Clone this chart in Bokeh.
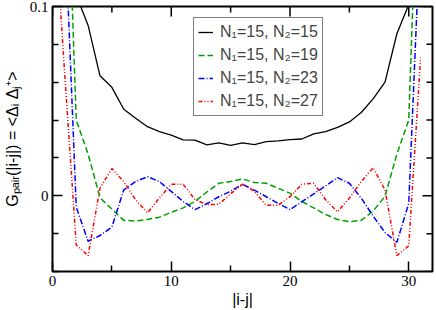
import math
from bokeh.plotting import figure
from bokeh.models import Range1d, SingleIntervalTicker, FixedTicker, Legend, LegendItem
from bokeh.embed import file_html
from bokeh.resources import INLINE

# |i-j| positions
dist = list(range(32))

# N1=15, N2=15
g_15 = [0.60, 0.25, 0.106, 0.090, 0.0634, 0.0573, 0.0457, 0.041, 0.0365, 0.0339,
        0.0321, 0.0295, 0.0294, 0.0269, 0.028, 0.0266, 0.028, 0.027, 0.0286, 0.029,
        0.0297, 0.030, 0.0327, 0.0339, 0.0361, 0.039, 0.044, 0.0512, 0.060, 0.0856,
        0.101, 0.25]
# N1=15, N2=19
g_19 = [0.60, 0.22, 0.040, 0.022, -0.001, -0.007, -0.013, -0.0133, -0.0125, -0.0113,
        -0.0087, -0.0064, -0.003, 0.002, 0.0066, 0.0075, 0.0089, 0.007, 0.0066, 0.004,
        0.0014, -0.003, -0.0064, -0.0099, -0.0125, -0.0137, -0.013, -0.0081, -0.0003, 0.022,
        0.040, 0.22]
# N1=15, N2=23
g_23 = [0.40, 0.15, -0.006, -0.024, -0.021, -0.0165, 0.0031, 0.0075, 0.0101, 0.0075,
        0.0023, -0.003, -0.0073, -0.0042, -0.0005, 0.0024, 0.0061, 0.003, -0.0005, -0.004,
        -0.0073, -0.0031, 0.001, 0.0052, 0.0096, 0.0066, -0.0012, -0.0107, -0.0194, -0.0246,
        -0.004, 0.145]
# N1=15, N2=27
g_27 = [0.165, 0.067, -0.026, -0.0316, 0.004, 0.0144, 0.0075, -0.0021, -0.009, -0.0012,
        0.0061, 0.0061, -0.002, -0.0047, -0.0045, 0.001, 0.0061, 0.0023, -0.005, -0.005,
        -0.0005, 0.0061, 0.0066, -0.0021, -0.0085, -0.0012, 0.0075, 0.0148, 0.0031, -0.0316,
        -0.0264, 0.073]

labels = ["N\u2081=15, N\u2082=15", "N\u2081=15, N\u2082=19",
          "N\u2081=15, N\u2082=23", "N\u2081=15, N\u2082=27"]
x_lim = (0, 32)
y_lim = (-0.04, 0.1)
x_major_ticks = [0, 10, 20, 30]
x_minor_ticks = [5, 15, 25]
y_major_ticks = [0, 0.1]
y_minor_ticks = [-0.04, -0.02, 0.02, 0.04, 0.06, 0.08]

p = figure(width=436, height=310, x_range=Range1d(*x_lim), y_range=Range1d(*y_lim),
           output_backend="svg", toolbar_location=None,
           min_border_left=52, min_border_right=4, min_border_top=6, min_border_bottom=37)
p.grid.visible = False
p.outline_line_color = "black"
p.outline_line_width = 2
p.background_fill_color = "white"
p.border_fill_color = "white"

def style_axis(ax):
    ax.axis_line_color = None
    ax.major_tick_in = 10
    ax.major_tick_out = 0
    ax.minor_tick_in = 6
    ax.minor_tick_out = 0
    ax.major_tick_line_width = 1.5
    ax.minor_tick_line_width = 1.5
    ax.major_tick_line_color = "black"
    ax.minor_tick_line_color = "black"
    ax.major_label_text_font = "Liberation Serif"
    ax.major_label_text_font_size = "15px"
    ax.major_label_text_color = "black"
    ax.axis_label_text_font = "Liberation Sans"
    ax.axis_label_text_font_size = "16px"
    ax.axis_label_text_font_style = "normal"
    ax.axis_label_text_color = "black"

xa = p.xaxis[0]
xa.ticker = FixedTicker(ticks=x_major_ticks, minor_ticks=x_minor_ticks)
style_axis(xa)
xa.major_label_standoff = 4
xa.axis_label = "|i-j|"
xa.axis_label_standoff = 2

ya = p.yaxis[0]
ya.ticker = FixedTicker(ticks=y_major_ticks, minor_ticks=y_minor_ticks)
style_axis(ya)
ya.major_label_standoff = 4
ya.major_label_overrides = {0: "0", 0.1: "0.1"}
ya.axis_label = "G\u209a\u2090\u1d62\u1d63(|i-j|) = <\u0394\u1d62 \u0394\u2c7c\u207a>"
ya.axis_label_standoff = 6

# mirrored inward ticks on the top and right frame edges
p.ray(x=x_major_ticks, y=[y_lim[1]] * len(x_major_ticks), length=10, angle=-math.pi / 2,
      length_units="screen", line_color="black", line_width=1.5)
p.ray(x=x_minor_ticks, y=[y_lim[1]] * len(x_minor_ticks), length=6, angle=-math.pi / 2,
      length_units="screen", line_color="black", line_width=1.5)
p.ray(x=[x_lim[1]] * len(y_major_ticks), y=y_major_ticks, length=10, angle=math.pi,
      length_units="screen", line_color="black", line_width=1.5)
p.ray(x=[x_lim[1]] * len(y_minor_ticks), y=y_minor_ticks, length=6, angle=math.pi,
      length_units="screen", line_color="black", line_width=1.5)

r1 = p.line(dist, g_15, line_color="black", line_width=1.3)
r2 = p.line(dist, g_19, line_color="#00a000", line_width=1.5, line_dash="6 3")
r3 = p.line(dist, g_23, line_color="#0000ff", line_width=1.5, line_dash="6 2 1 2")
r4 = p.line(dist, g_27, line_color="#ff0000", line_width=1.5, line_dash="4 2 1 2 1 2")

legend = Legend(items=[LegendItem(label=labels[0], renderers=[r1]),
                       LegendItem(label=labels[1], renderers=[r2]),
                       LegendItem(label=labels[2], renderers=[r3]),
                       LegendItem(label=labels[3], renderers=[r4])],
                location=(141, 155))
legend.border_line_color = "black"
legend.border_line_width = 1.5
legend.background_fill_color = "white"
legend.background_fill_alpha = 1
legend.label_text_font = "Liberation Sans"
legend.label_text_font_size = "16px"
legend.label_height = 20
legend.glyph_height = 20
legend.glyph_width = 15
legend.label_standoff = 7
legend.spacing = 3
legend.padding = 4
legend.margin = 0
p.add_layout(legend, "center")

open("out.html", "w").write(file_html(p, INLINE))
